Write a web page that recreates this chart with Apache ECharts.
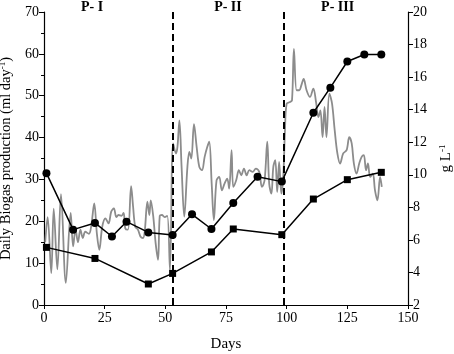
<!DOCTYPE html>
<html>
<head>
<meta charset="utf-8">
<script src="https://cdn.jsdelivr.net/npm/echarts@6/dist/echarts.min.js"></script>
<style>
  html, body { margin: 0; padding: 0; background: #fff; }
  #main { width: 454px; height: 354px; }
</style>
</head>
<body>
<div id="main"></div>
<script>
// daily biogas (left axis)
var gasDays = [0.5, 1.5, 3, 4, 5.5, 7, 9, 11, 12, 13, 14, 15, 16, 17, 18.5, 19.5, 20.7, 21.8, 22.8, 24, 25.3, 26.6, 27.7,
  28.8, 29.8, 30.7, 31.9, 32.8, 33.5, 34.6, 35.9, 36.7, 37.6, 38.7, 39.8, 40.8, 41.5, 42.6, 43.4, 44, 45, 46, 47, 47.7, 48.6, 49.7, 50.8, 51.9,
  53.2, 54.4, 55, 55.8, 56.7, 57.8, 59.1, 59.9, 60.7, 61.8, 62.9, 64, 65.1, 66.2, 67.3, 68.1, 69.1, 70, 71.1, 72.2, 73.3, 74.4, 75.5, 76.3, 77.3, 78,
  79.2, 80.3, 81.3, 82.4, 83.5, 84.6, 86, 87.3, 88.7, 89.8, 90.9, 92, 92.8, 93.7, 94.5, 95.3, 96.1, 96.9, 97.8, 98.6,
  99.3, 100, 101.4, 102.2, 103, 104.1, 105.2, 106, 107, 108.2, 109.6, 111, 112.1, 113.1, 113.9, 114.8, 115.6, 116.4, 117.6, 118.7, 119.8,
  120.9, 122, 123.3, 124.7, 125.8, 126.8, 127.7, 128.8, 129.9, 130.9, 131.8, 132.7, 133.5, 134.4, 135.5, 136.4, 137.4, 138.5, 139.2];
var gasVals = [15, 21, 7.6, 23, 8.5, 26.5, 5.3, 22, 14, 18, 15, 18, 16, 17.5, 17, 19, 24.3, 17, 13.2, 18.7, 20.7, 19.5, 22.3,
  23.1, 21, 21.5, 21.3, 22, 18.3, 18, 28.4, 23.6, 18.7, 18, 16.3, 16, 17.5, 24.7, 21.5, 25, 21.3, 14.8, 10.8, 21.3, 21.5, 21, 21.3, 8.4,
  38.6, 36.2, 37.8, 44.1, 33, 21.1, 33, 36.6, 35, 43.2, 37.8, 33, 32.2, 35.4, 37.8, 39, 29, 20.3, 29.8, 30.6, 27.4, 29, 30.2, 27.8, 37, 28.2,
  29.8, 32.2, 31, 32.6, 31, 32.2, 31.8, 32.6, 31.8, 28.2, 29.8, 39, 29, 26.6, 33, 34.6, 27, 34.2, 26.6, 30.6,
  41.7, 48.1, 48.5, 48.9, 61.2, 51.3, 51.3, 52.4, 54, 51.3, 49.7, 51.7, 48.5, 44.9, 46.5, 40.1, 47.3, 40.1, 50.5, 48.1, 41.7,
  36.2, 33.8, 36.2, 37, 40.1, 38.6, 33.8, 31.4, 33.8, 35.4, 35.8, 32.2, 33.8, 30.6, 31.4, 27.4, 25, 30.6, 28.2];

// g L-1 series (right axis)
var circDays = [1, 12, 21, 28, 34, 43, 53, 61, 69, 78, 88, 98, 111, 118, 125, 132, 139];
var circVals = [10.1, 6.63, 7.04, 6.21, 7.12, 6.46, 6.3, 7.57, 6.67, 8.27, 9.88, 9.58, 13.81, 15.35, 16.96, 17.39, 17.39];
var sqDays = [1, 21, 43, 53, 69, 78, 98, 111, 125, 139];
var sqVals = [5.54, 4.86, 3.29, 3.94, 5.26, 6.67, 6.32, 8.51, 9.7, 10.15];

var phaseDays = [53, 99];
var phaseNames = ['P- I', 'P- II', 'P- III'];
var phaseLabelDays = [19.8, 75.8, 121];

function pairs(xs, ys) {
  var out = [];
  for (var i = 0; i < xs.length; i++) out.push([xs[i], ys[i]]);
  return out;
}

var serif = 'Liberation Serif';
var dom = document.getElementById('main');
var myChart = echarts.init(dom);

var option = {
  animation: false,
  backgroundColor: '#fff',
  textStyle: { fontFamily: serif },
  grid: { left: 44, right: 46, top: 12, bottom: 49, outerBoundsMode: 'none', containLabel: false },
  xAxis: {
    type: 'value', min: 0, max: 150, interval: 25,
    name: 'Days', nameLocation: 'middle', nameGap: 32,
    nameTextStyle: { fontFamily: serif, fontSize: 15, color: '#000' },
    axisLine: { lineStyle: { color: '#000', width: 1.2 } },
    axisTick: { length: 4, lineStyle: { color: '#000' } },
    axisLabel: { fontFamily: serif, fontSize: 14, color: '#000', margin: 6 },
    splitLine: { show: false }
  },
  yAxis: [{
    type: 'value', min: 0, max: 70, interval: 10,
    name: '{a|Daily Biogas production (ml day}{s|-1}{a|)}',
    nameLocation: 'middle', nameGap: 25,
    nameTextStyle: {
      rich: {
        a: { fontFamily: serif, fontSize: 14.5, color: '#000' },
        s: { fontFamily: serif, fontSize: 9, color: '#000', padding: [0, 0, 8, 0] }
      }
    },
    axisLine: { show: true, lineStyle: { color: '#000', width: 1.2 } },
    axisTick: { length: 5, lineStyle: { color: '#000' } },
    minorTick: { show: true, splitNumber: 2, length: 3, lineStyle: { color: '#000' } },
    axisLabel: { fontFamily: serif, fontSize: 14, color: '#000', margin: 5 },
    splitLine: { show: false }
  }, {
    type: 'value', min: 2, max: 20, interval: 2, position: 'right',
    name: '{a|g L}{s|-1}',
    nameLocation: 'middle', nameGap: 28, nameRotate: 90,
    nameTextStyle: {
      rich: {
        a: { fontFamily: serif, fontSize: 15, color: '#000' },
        s: { fontFamily: serif, fontSize: 9, color: '#000', padding: [0, 0, 8, 0] }
      }
    },
    axisLine: { show: true, lineStyle: { color: '#000', width: 1.2 } },
    axisTick: { length: 5, lineStyle: { color: '#000' } },
    axisLabel: { fontFamily: serif, fontSize: 14, color: '#000', margin: 5 },
    splitLine: { show: false }
  }],
  series: [
    {
      type: 'line', name: 'biogas', yAxisIndex: 0,
      data: pairs(gasDays, gasVals),
      smooth: 0.35, showSymbol: false,
      lineStyle: { color: '#8c8c8c', width: 1.8 },
      markLine: {
        silent: true, symbol: 'none', label: { show: false },
        lineStyle: { color: '#000', type: [7, 4], width: 2 },
        data: phaseDays.map(function (d) { return { xAxis: d }; })
      }
    },
    {
      type: 'line', name: 'circles', yAxisIndex: 1,
      data: pairs(circDays, circVals),
      symbol: 'circle', symbolSize: 8,
      lineStyle: { color: '#000', width: 1.5 },
      itemStyle: { color: '#000' }
    },
    {
      type: 'line', name: 'squares', yAxisIndex: 1,
      data: pairs(sqDays, sqVals),
      symbol: 'rect', symbolSize: 7,
      lineStyle: { color: '#000', width: 1.5 },
      itemStyle: { color: '#000' }
    }
  ]
};
myChart.setOption(option);

// phase labels above the plot
var texts = phaseNames.map(function (n, i) {
  var p = myChart.convertToPixel({ xAxisIndex: 0, yAxisIndex: 0 }, [phaseLabelDays[i], 70]);
  return {
    type: 'text', x: p[0], y: 7,
    style: { text: n, font: 'bold 14px "Liberation Serif"', fill: '#000', align: 'center', verticalAlign: 'middle' }
  };
});
myChart.setOption({ graphic: texts });
</script>
</body>
</html>
